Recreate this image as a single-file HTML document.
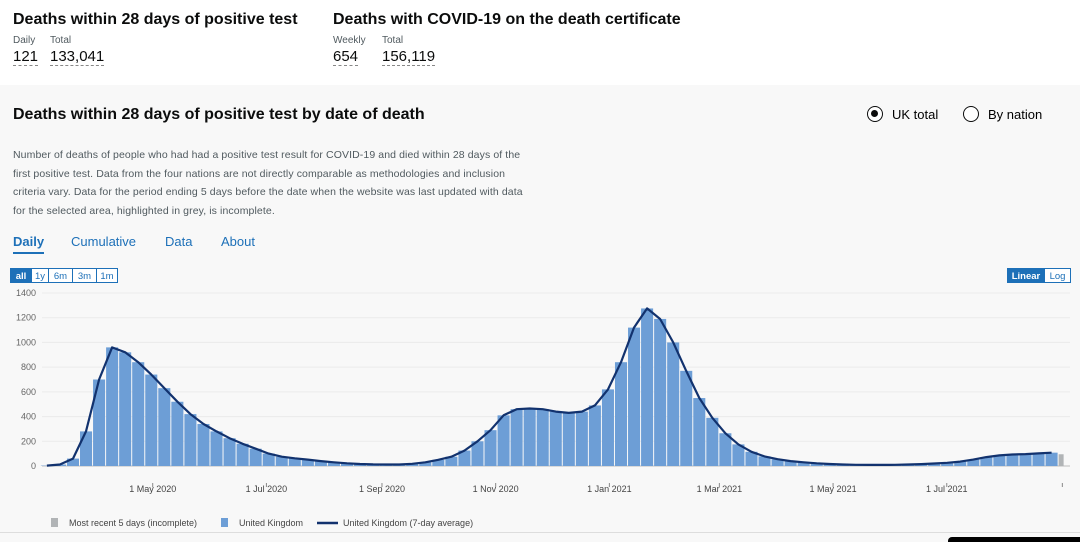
<!DOCTYPE html>
<html><head><meta charset="utf-8">
<style>
body{margin:0;width:1080px;height:542px;overflow:hidden;font-family:"Liberation Sans",sans-serif;background:#fff;position:relative}
.abs{position:absolute}
.h{font-weight:bold;font-size:16px;color:#0b0c0c}
.lab{font-size:10px;color:#505a5f}
.num{font-size:15px;color:#0b0c0c;border-bottom:1px dashed #888;line-height:17px}
#panel{position:absolute;left:0;top:85px;width:1080px;height:457px;background:#f8f8f8}
.desc{font-size:10.5px;color:#505a5f;line-height:18.5px;white-space:nowrap;letter-spacing:0.1px}
.tab{font-size:13px;color:#1d70b8}
.btn{font-size:9.5px;color:#1d70b8;border:1px solid #1d70b8;height:15px;line-height:15px;text-align:center;background:#fff;box-sizing:border-box}
.radio{width:16px;height:16px;border:1.5px solid #0b0c0c;border-radius:50%;box-sizing:border-box;background:#fff}
</style></head><body>
<div class="abs h" style="left:13px;top:11px">Deaths within 28 days of positive test</div>
<div class="abs lab" style="left:13px;top:35px">Daily</div>
<div class="abs lab" style="left:50px;top:35px">Total</div>
<div class="abs num" style="left:13px;top:48px">121</div>
<div class="abs num" style="left:50px;top:48px">133,041</div>
<div class="abs h" style="left:333px;top:11px">Deaths with COVID-19 on the death certificate</div>
<div class="abs lab" style="left:333px;top:35px">Weekly</div>
<div class="abs lab" style="left:382px;top:35px">Total</div>
<div class="abs num" style="left:333px;top:48px">654</div>
<div class="abs num" style="left:382px;top:48px">156,119</div>
<div id="panel"></div>
<div class="abs h" style="left:13px;top:106px">Deaths within 28 days of positive test by date of death</div>
<div class="abs radio" style="left:867px;top:106px"><div style="width:7px;height:7px;background:#0b0c0c;border-radius:50%;margin:3px"></div></div>
<div class="abs" style="left:892px;top:107px;font-size:13px">UK total</div>
<div class="abs radio" style="left:963px;top:106px"></div>
<div class="abs" style="left:988px;top:107px;font-size:13px">By nation</div>
<div class="abs desc" style="left:13px;top:146px">Number of deaths of people who had had a positive test result for COVID-19 and died within 28 days of the<br>first positive test. Data from the four nations are not directly comparable as methodologies and inclusion<br>criteria vary. Data for the period ending 5 days before the date when the website was last updated with data<br>for the selected area, highlighted in grey, is incomplete.</div>
<div class="abs tab" style="left:13px;top:234px;font-weight:bold;color:#1d70b8;border-bottom:2px solid #1d70b8;padding-bottom:3px">Daily</div>
<div class="abs tab" style="left:71px;top:234px">Cumulative</div>
<div class="abs tab" style="left:165px;top:234px">Data</div>
<div class="abs tab" style="left:221px;top:234px">About</div>
<div class="abs btn" style="left:10px;top:268px;width:22px;background:#1d70b8;color:#fff;font-weight:bold">all</div>
<div class="abs btn" style="left:31px;top:268px;width:18px">1y</div>
<div class="abs btn" style="left:48px;top:268px;width:25px">6m</div>
<div class="abs btn" style="left:72px;top:268px;width:25px">3m</div>
<div class="abs btn" style="left:96px;top:268px;width:22px">1m</div>
<div class="abs btn" style="left:1007px;top:268px;width:38px;background:#1d70b8;color:#fff;font-weight:bold">Linear</div>
<div class="abs btn" style="left:1044px;top:268px;width:27px">Log</div>
<svg class="abs" style="left:0;top:0" width="1080" height="542" id="chart"></svg>
<div class="abs" style="left:0;top:532px;width:1080px;height:1px;background:#ddd"></div>
<div class="abs" style="left:948px;top:537px;width:132px;height:5px;background:#000;border-radius:4px 0 0 0"></div>
<script>
const weekStarts=["2020-03-02","2020-03-09","2020-03-16","2020-03-23","2020-03-30","2020-04-06","2020-04-13","2020-04-20","2020-04-27","2020-05-04","2020-05-11","2020-05-18","2020-05-25","2020-06-01","2020-06-08","2020-06-15","2020-06-22","2020-06-29","2020-07-06","2020-07-13","2020-07-20","2020-07-27","2020-08-03","2020-08-10","2020-08-17","2020-08-24","2020-08-31","2020-09-07","2020-09-14","2020-09-21","2020-09-28","2020-10-05","2020-10-12","2020-10-19","2020-10-26","2020-11-02","2020-11-09","2020-11-16","2020-11-23","2020-11-30","2020-12-07","2020-12-14","2020-12-21","2020-12-28","2021-01-04","2021-01-11","2021-01-18","2021-01-25","2021-02-01","2021-02-08","2021-02-15","2021-02-22","2021-03-01","2021-03-08","2021-03-15","2021-03-22","2021-03-29","2021-04-05","2021-04-12","2021-04-19","2021-04-26","2021-05-03","2021-05-10","2021-05-17","2021-05-24","2021-05-31","2021-06-07","2021-06-14","2021-06-21","2021-06-28","2021-07-05","2021-07-12","2021-07-19","2021-07-26","2021-08-02","2021-08-09","2021-08-16","2021-08-23"];
const weeklyDeaths=[3,12,60,280,700,960,920,840,740,630,520,420,340,280,225,180,140,100,75,62,52,40,30,22,16,13,12,12,18,30,50,75,125,200,290,410,460,465,460,440,430,440,490,620,840,1120,1275,1190,1000,770,550,390,265,175,115,78,55,40,30,22,16,12,10,9,9,10,12,15,20,26,36,52,72,86,93,96,102,108];
const incompleteWeeks=["2021-08-30"];
const incompleteDeaths=[95];
const yTicks=[0,200,400,600,800,1000,1200,1400];
const xTickDates=["2020-05-01","2020-07-01","2020-09-01","2020-11-01","2021-01-01","2021-03-01","2021-05-01","2021-07-01","2021-09-01"];
const xTickLabels=["1 May 2020","1 Jul 2020","1 Sep 2020","1 Nov 2020","1 Jan 2021","1 Mar 2021","1 May 2021","1 Jul 2021",""];

const svg=document.getElementById('chart');const NS='http://www.w3.org/2000/svg';
const t0=Date.UTC(2020,2,1);
function day(s){const p=s.split('-');return (Date.UTC(+p[0],p[1]-1,+p[2])-t0)/864e5;}
function x(d){return 39+d*1.864;}
function y(v){return 466-v*(173/1400);}
function mk(tag,attrs,parent){const e=document.createElementNS(NS,tag);for(const k in attrs)e.setAttribute(k,attrs[k]);(parent||svg).appendChild(e);return e;}
yTicks.forEach(v=>{
 const g=mk('line',{x1:42,x2:1070,y1:y(v),y2:y(v),stroke:v===0?'#bbb':'#ebebeb','stroke-width':1});
 
 
 const t=mk('text',{x:36,y:y(v)+3,'text-anchor':'end','font-size':9,fill:'#666','font-family':'Liberation Sans, sans-serif'});t.textContent=v;
 
 
});
xTickDates.forEach((s,i)=>{
 const xx=x(day(s));
 const l=mk('line',{x1:xx,x2:xx,y1:483,y2:487,stroke:'#888'});
 
 
 const t=mk('text',{x:xx,y:492,'text-anchor':'middle','font-size':9,fill:'#444','font-family':'Liberation Sans, sans-serif'});t.textContent=xTickLabels[i];
 
 
});
const bw=7*1.864-1;
weekStarts.forEach((s,i)=>{
 const v=weeklyDeaths[i];
 const r=mk('rect',{x:x(day(s)),y:y(v),width:bw,height:466-y(v),fill:'#6d9ed6'});
 
 
});
incompleteWeeks.forEach((s,i)=>{
 const v=incompleteDeaths[i];
 const r=mk('rect',{x:x(day(s)),y:y(v),width:5,height:466-y(v),fill:'#b1b4b6'});
 
 
});
let d='';
weekStarts.forEach((s,i)=>{d+=(i?'L':'M')+(x(day(s))+bw/2).toFixed(1)+','+y(weeklyDeaths[i]).toFixed(1);});
const p=mk('path',{d:d,fill:'none',stroke:'#12326e','stroke-width':2.2,'stroke-linejoin':'round'});


const lg=mk('g',{'font-size':9,fill:'#444','font-family':'Liberation Sans, sans-serif'});


mk('rect',{x:51,y:518,width:7,height:9,fill:'#b1b4b6'},lg);
const t1=mk('text',{x:69,y:526},lg);t1.textContent='Most recent 5 days (incomplete)';


mk('rect',{x:221,y:518,width:7,height:9,fill:'#6d9ed6'},lg);
const t2=mk('text',{x:239,y:526},lg);t2.textContent='United Kingdom';


mk('line',{x1:317,x2:338,y1:523,y2:523,stroke:'#12326e','stroke-width':2.5},lg);
const t3=mk('text',{x:343,y:526},lg);t3.textContent='United Kingdom (7-day average)';


</script>
</body></html>
